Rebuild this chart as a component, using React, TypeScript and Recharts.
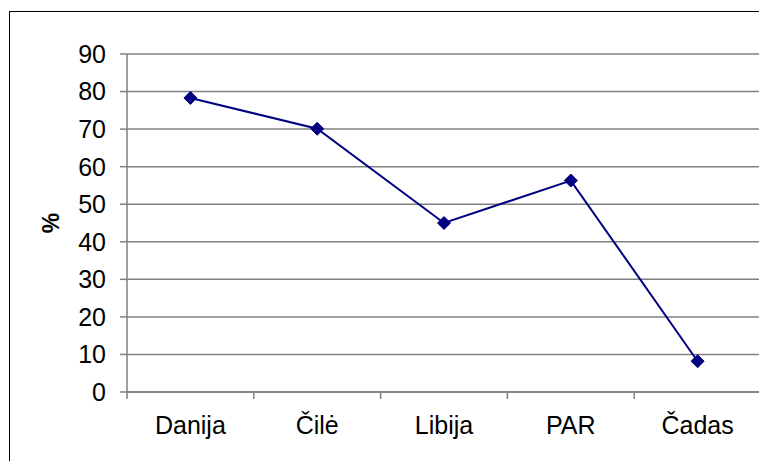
import React from 'react';
import { LineChart, Line, XAxis, YAxis, CartesianGrid } from 'recharts';

const categories = ['Danija', 'Čilė', 'Libija', 'PAR', 'Čadas'];
const values = [78.3, 70.1, 45.0, 56.3, 8.2];
const yTicks = [0, 10, 20, 30, 40, 50, 60, 70, 80, 90];

const data = categories.map((name, i) => ({ x: i + 0.5, name, value: values[i] }));
const xTicks = Array.from({ length: categories.length * 2 + 1 }, (_, i) => i / 2);

const FONT = '"Liberation Sans", Arial, sans-serif';
const FS = 25;
const GREY = '#808080';
const NAVY = '#000080';

const XTick = (props: any) => {
  const { x, y, payload } = props;
  const v = payload.value as number;
  if (Number.isInteger(v)) {
    return <line x1={x} x2={x} y1={y} y2={y + 7} stroke={GREY} strokeWidth={1.5} />;
  }
  const idx = Math.floor(v);
  return (
    <text x={x} y={y + 42} textAnchor="middle" fontFamily={FONT} fontSize={FS} fill="#000">
      {categories[idx]}
    </text>
  );
};

const Diamond = (props: any) => {
  const { cx, cy } = props;
  if (cx == null || cy == null) return null;
  const s = 6.5;
  return (
    <polygon
      points={`${cx},${cy - s} ${cx + s},${cy} ${cx},${cy + s} ${cx - s},${cy}`}
      fill={NAVY}
      stroke={NAVY}
    />
  );
};

const YLabel = (props: any) => {
  const { viewBox } = props;
  const cy = viewBox.y + viewBox.height / 2;
  const x = 43;
  return (
    <text
      x={x}
      y={cy}
      transform={`rotate(-90, ${x}, ${cy})`}
      textAnchor="middle"
      dominantBaseline="central"
      fontFamily={FONT}
      fontSize={23}
      fontWeight="bold"
      fill="#000"
    >
      %
    </text>
  );
};

export default function App() {
  return (
    <div style={{ position: 'relative', width: 759, height: 453, overflow: 'hidden', background: '#fff' }}>
      <div
        style={{
          position: 'absolute',
          left: 1,
          top: 3,
          width: 800,
          height: 500,
          border: '1px solid #000',
          boxSizing: 'border-box',
        }}
      />
      <div style={{ position: 'absolute', left: 0, top: 0 }}>
        <LineChart width={759} height={453} data={data} margin={{ top: 46, right: 6, bottom: 9, left: 0 }}>
          <CartesianGrid vertical={false} stroke={GREY} strokeWidth={1.5} horizontalValues={yTicks} />
          <XAxis
            dataKey="x"
            type="number"
            domain={[0, categories.length]}
            ticks={xTicks}
            interval={0}
            tick={<XTick />}
            tickLine={false}
            tickSize={0}
            tickMargin={0}
            height={60}
            axisLine={{ stroke: GREY, strokeWidth: 1.5 }}
          />
          <YAxis
            type="number"
            domain={[0, 90]}
            ticks={yTicks}
            interval={0}
            width={119}
            tickSize={7}
            tickMargin={14}
            tick={{ fontFamily: FONT, fontSize: FS, fill: '#000' }}
            tickLine={{ stroke: GREY, strokeWidth: 1.5 }}
            axisLine={{ stroke: GREY, strokeWidth: 1.5 }}
            label={<YLabel />}
          />
          <Line
            dataKey="value"
            stroke={NAVY}
            strokeWidth={2}
            dot={<Diamond />}
            activeDot={false}
            isAnimationActive={false}
          />
        </LineChart>
      </div>
    </div>
  );
}
